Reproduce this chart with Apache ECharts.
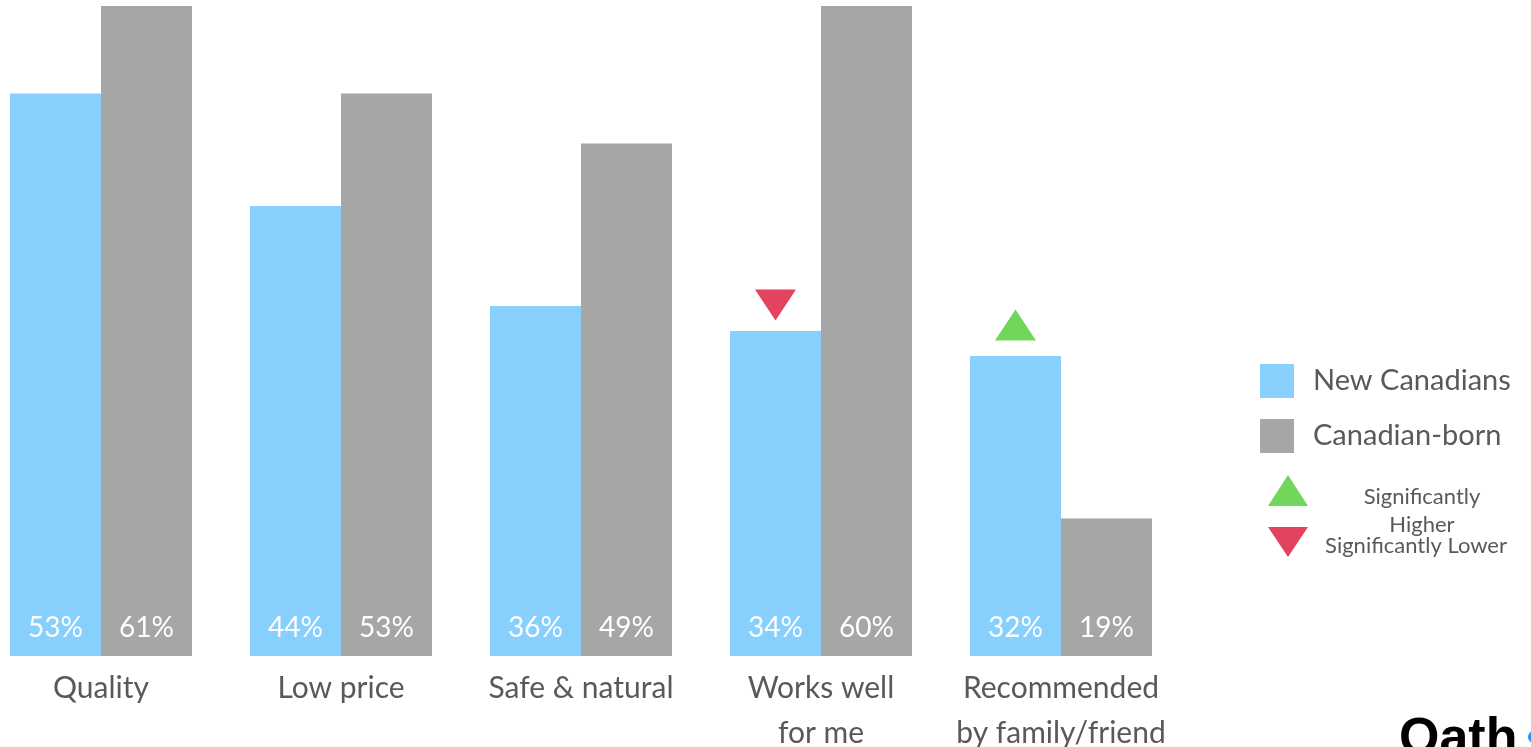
<!DOCTYPE html>
<html>
<head>
<meta charset="utf-8">
<script src="https://cdn.jsdelivr.net/npm/echarts@6/dist/echarts.min.js"></script>
<style>
  html, body { margin: 0; padding: 0; background: #ffffff; }
  #chart { width: 1531px; height: 747px; }
</style>
</head>
<body>
<div id="chart"></div>
<script>
// Purchase drivers: share of respondents choosing each reason
const categories = ['Quality', 'Low price', 'Safe & natural', 'Works well\nfor me', 'Recommended\nby family/friend'];
const newCanadians = [53, 44, 36, 34, 32];
const canadianBorn = [61, 53, 49, 60, 19];
// Significance flags for New Canadians vs Canadian-born
const sigLower = ['Works well\nfor me'];
const sigHigher = ['Recommended\nby family/friend'];

const FONT = 'Lato';
const TEXT = '#595959';
const BLUE = '#87CFFD';
const GREY = '#A6A6A6';
const RED = '#E2445F';
const GREEN = '#72D65A';

const chart = echarts.init(document.getElementById('chart'), null, { renderer: 'canvas' });

function sigMarks() {
  const marks = [];
  sigLower.forEach(c => {
    const i = categories.indexOf(c);
    marks.push({ coord: [i, newCanadians[i]], symbol: 'triangle', symbolRotate: 180,
      symbolSize: [41, 31], symbolOffset: [0, -26], itemStyle: { color: RED } });
  });
  sigHigher.forEach(c => {
    const i = categories.indexOf(c);
    marks.push({ coord: [i, newCanadians[i]], symbol: 'triangle',
      symbolSize: [41, 31], symbolOffset: [0, -31], itemStyle: { color: GREEN } });
  });
  return marks;
}

const valueLabel = {
  show: true,
  position: 'insideBottom',
  distance: 14,
  color: '#ffffff',
  fontFamily: FONT,
  fontSize: 28,
  formatter: p => p.value + '%'
};

chart.setOption({
  animation: false,
  backgroundColor: '#ffffff',
  textStyle: { fontFamily: FONT },
  grid: { left: -19, width: 1200, top: 6, bottom: 91, containLabel: false, outerBoundsMode: 'none' },
  xAxis: {
    type: 'category',
    data: categories,
    axisLine: { show: false },
    axisTick: { show: false },
    axisLabel: {
      interval: 0,
      margin: 10,
      color: TEXT,
      fontFamily: FONT,
      fontSize: 30,
      lineHeight: 45
    }
  },
  yAxis: {
    type: 'value',
    min: 8,
    max: 60,
    show: false,
    splitLine: { show: false }
  },
  legend: {
    orient: 'vertical',
    left: 1260,
    top: 364,
    padding: 0,
    itemWidth: 34,
    itemHeight: 34,
    itemGap: 21,
    icon: 'rect',
    textStyle: { color: TEXT, fontFamily: FONT, fontSize: 29, padding: [0, 0, 0, 14] },
    data: ['New Canadians', 'Canadian-born']
  },
  series: [
    {
      name: 'New Canadians',
      type: 'bar',
      data: newCanadians,
      barWidth: 91,
      barGap: '0%',
      itemStyle: { color: BLUE },
      label: valueLabel,
      markPoint: { silent: true, label: { show: false }, data: sigMarks() }
    },
    {
      name: 'Canadian-born',
      type: 'bar',
      data: canadianBorn,
      barWidth: 91,
      barGap: '0%',
      itemStyle: { color: GREY },
      label: valueLabel
    }
  ],
  graphic: [
    { type: 'polygon', shape: { points: [[1268, 506], [1308, 506], [1288, 475]] }, style: { fill: GREEN } },
    { type: 'polygon', shape: { points: [[1268, 527], [1308, 527], [1288, 557]] }, style: { fill: RED } },
    { type: 'text', x: 1422, y: 511, style: { text: 'Significantly\nHigher', fill: TEXT, font: '22px Lato',
      align: 'center', verticalAlign: 'middle', lineHeight: 28 } },
    { type: 'text', x: 1416, y: 546, style: { text: 'Significantly Lower', fill: TEXT, font: '22px Lato',
      align: 'center', verticalAlign: 'middle' } },
    { type: 'text', x: 1399, y: 714, style: { text: 'Oath', fill: '#000000',
      font: 'bold 52px "Liberation Sans"', align: 'left', verticalAlign: 'top' } },
    { type: 'circle', shape: { cx: 1534, cy: 737, r: 6 }, style: { fill: '#1A9CF0' } }
  ]
});
</script>
</body>
</html>
